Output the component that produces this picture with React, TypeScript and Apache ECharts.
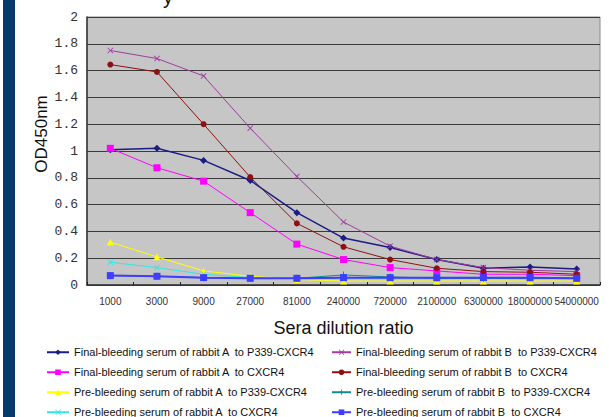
import React, { useEffect, useRef } from "react";
import * as echarts from "echarts";

const categories = ["1000", "3000", "9000", "27000", "81000", "240000", "720000", "2100000", "6300000", "18000000", "54000000"];

const finalA_P339 = [1.01, 1.02, 0.93, 0.78, 0.54, 0.35, 0.28, 0.19, 0.125, 0.135, 0.12];
const finalA_CXCR4 = [1.02, 0.875, 0.775, 0.54, 0.305, 0.19, 0.13, 0.105, 0.08, 0.08, 0.07];
const preA_P339 = [0.32, 0.21, 0.105, 0.065, 0.04, 0.03, 0.03, 0.03, 0.03, 0.03, 0.03];
const preA_CXCR4 = [0.17, 0.13, 0.08, 0.055, 0.045, 0.045, 0.045, 0.045, 0.05, 0.045, 0.045];
const finalB_P339 = [1.75, 1.69, 1.56, 1.17, 0.81, 0.47, 0.29, 0.19, 0.13, 0.11, 0.1];
const finalB_CXCR4 = [1.645, 1.59, 1.2, 0.805, 0.46, 0.285, 0.19, 0.125, 0.1, 0.095, 0.08];
const preB_P339 = [0.07, 0.065, 0.055, 0.05, 0.05, 0.075, 0.06, 0.05, 0.05, 0.05, 0.05];
const preB_CXCR4 = [0.07, 0.065, 0.055, 0.05, 0.05, 0.055, 0.055, 0.055, 0.055, 0.055, 0.05];

const namesA = [
  "Final-bleeding serum of rabbit A  to P339-CXCR4",
  "Final-bleeding serum of rabbit A  to CXCR4",
  "Pre-bleeding serum of rabbit A  to P339-CXCR4",
  "Pre-bleeding serum of rabbit A  to CXCR4",
];
const namesB = [
  "Final-bleeding serum of rabbit B  to P339-CXCR4",
  "Final-bleeding serum of rabbit B  to CXCR4",
  "Pre-bleeding serum of rabbit B  to P339-CXCR4",
  "Pre-bleeding serum of rabbit B  to CXCR4",
];

const X_SHAPE = "path://M0,1 L1,0 L5,4 L9,0 L10,1 L6,5 L10,9 L9,10 L5,6 L1,10 L0,9 L4,5Z";
const PLUS_SHAPE = "path://M4.3,0H5.7V4.3H10V5.7H5.7V10H4.3V5.7H0V4.3H4.3Z";
const DASH_SHAPE = "path://M0,4.2H10V5.8H0Z";

export default function App() {
  const ref = useRef<HTMLDivElement>(null);
  useEffect(() => {
    if (!ref.current) return;
    const chart = echarts.init(ref.current, null, { renderer: "svg" });
    const mk = (name: string, data: number[], color: string, symbol: string, size: number, width = 1) => ({
      name,
      type: "line",
      data,
      symbol,
      symbolSize: size,
      showSymbol: true,
      lineStyle: { color, width },
      itemStyle: { color },
      emphasis: { disabled: true },
    });
    const legendCommon = {
      orient: "vertical",
      top: 346,
      height: 120,
      padding: 0,
      itemWidth: 22,
      itemHeight: 7,
      itemGap: 7.5,
      selectedMode: false,
      textStyle: { fontSize: 11, color: "#111", fontFamily: "Liberation Sans, Arial, sans-serif", lineHeight: 12.5 },
    };
    chart.setOption({
      animation: false,
      backgroundColor: "#ffffff",
      graphic: [
        { type: "rect", left: 3, top: 0, shape: { width: 12, height: 417 }, style: { fill: "#063a6d" } },
        {
          type: "text",
          left: 163,
          top: -13,
          style: { text: "y", fontSize: 20, fill: "#111", fontFamily: "Liberation Sans, Arial, sans-serif" },
        },
      ],
      legend: [
        { ...legendCommon, left: 46, data: namesA },
        { ...legendCommon, left: 331, itemWidth: 19, data: namesB },
      ],
      grid: { left: 87, right: 9, top: 17, bottom: 132, show: true, backgroundColor: "#c6c6c6", borderColor: "#8a8a8a", borderWidth: 1 },
      xAxis: {
        type: "category",
        data: categories,
        boundaryGap: true,
        name: "Sera dilution ratio",
        nameLocation: "middle",
        nameGap: 34,
        nameMoveOverlap: false,
        nameTextStyle: { fontSize: 18, color: "#111", fontFamily: "Liberation Sans, Arial, sans-serif" },
        axisLine: { lineStyle: { color: "#333", width: 1.5 } },
        axisTick: { show: true, inside: true, length: 3, lineStyle: { color: "#222" } },
        axisLabel: { fontSize: 10, color: "#333", margin: 11, interval: 0, fontFamily: "Liberation Sans, Arial, sans-serif" },
        splitLine: { show: false },
      },
      yAxis: {
        type: "value",
        min: 0,
        max: 2,
        interval: 0.2,
        name: "OD450nm",
        nameLocation: "middle",
        nameGap: 37,
        nameMoveOverlap: false,
        nameRotate: 90,
        nameTextStyle: { fontSize: 17, color: "#111", fontFamily: "Liberation Sans, Arial, sans-serif", padding: [0, 0, 0, 34] },
        axisLine: { show: true, lineStyle: { color: "#333", width: 1.5 } },
        axisTick: { show: false },
        axisLabel: {
          fontSize: 13,
          color: "#333",
          margin: 9,
          fontFamily: "Liberation Mono, monospace",
          formatter: (v: number) => String(Math.round(v * 10) / 10),
        },
        splitLine: { show: true, lineStyle: { color: "#3a3a3a", width: 1.2 } },
      },
      series: [
        mk(namesA[0], finalA_P339, "#1c1c86", "diamond", 7, 1.5),
        mk(namesA[1], finalA_CXCR4, "#ff00ff", "rect", 7),
        mk(namesA[2], preA_P339, "#ffff00", "triangle", 7),
        mk(namesA[3], preA_CXCR4, "#33e6e6", X_SHAPE, 6),
        mk(namesB[0], finalB_P339, "#a03ca0", X_SHAPE, 6),
        mk(namesB[1], finalB_CXCR4, "#8e1010", "circle", 6),
        mk(namesB[2], preB_P339, "#118a8a", PLUS_SHAPE, 7),
        mk(namesB[3], preB_CXCR4, "#3d3dff", DASH_SHAPE, 7, 2),
      ],
    });
    return () => chart.dispose();
  }, []);
  return <div ref={ref} style={{ position: "absolute", left: 0, top: 0, width: 609, height: 417 }} />;
}
